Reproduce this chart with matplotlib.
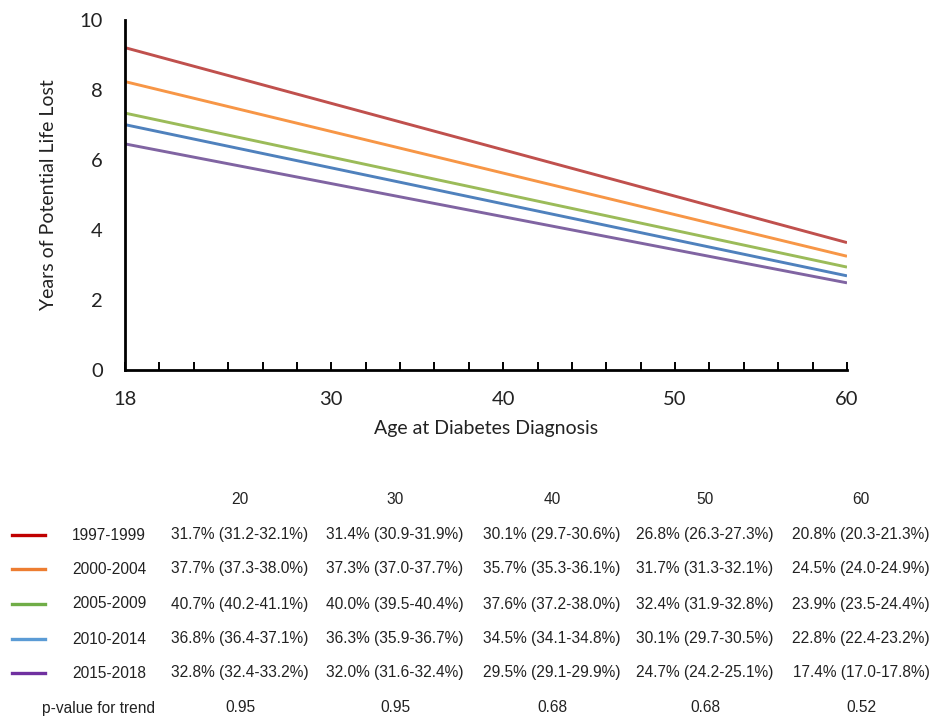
"""Years of potential life lost by age at diabetes diagnosis, with period table."""
import matplotlib
matplotlib.use("Agg")
import matplotlib.pyplot as plt
from matplotlib.lines import Line2D

# line endpoints (age 18 and age 60)
ages = [18, 60]
periods = ["1997-1999", "2000-2004", "2005-2009", "2010-2014", "2015-2018"]
ypll = [
    [9.21, 3.64],
    [8.24, 3.25],
    [7.34, 2.94],
    [7.01, 2.69],
    [6.46, 2.49],
]
line_colors = ["#C0504D", "#F79646", "#9BBB59", "#4F81BD", "#8064A2"]
legend_colors = ["#C00000", "#ED7D31", "#70AD47", "#5B9BD5", "#7030A0"]

# table below the chart
table_ages = ["20", "30", "40", "50", "60"]
table_rows = [
    ["31.7% (31.2-32.1%)", "31.4% (30.9-31.9%)", "30.1% (29.7-30.6%)", "26.8% (26.3-27.3%)", "20.8% (20.3-21.3%)"],
    ["37.7% (37.3-38.0%)", "37.3% (37.0-37.7%)", "35.7% (35.3-36.1%)", "31.7% (31.3-32.1%)", "24.5% (24.0-24.9%)"],
    ["40.7% (40.2-41.1%)", "40.0% (39.5-40.4%)", "37.6% (37.2-38.0%)", "32.4% (31.9-32.8%)", "23.9% (23.5-24.4%)"],
    ["36.8% (36.4-37.1%)", "36.3% (35.9-36.7%)", "34.5% (34.1-34.8%)", "30.1% (29.7-30.5%)", "22.8% (22.4-23.2%)"],
    ["32.8% (32.4-33.2%)", "32.0% (31.6-32.4%)", "29.5% (29.1-29.9%)", "24.7% (24.2-25.1%)", "17.4% (17.0-17.8%)"],
]
p_values = ["0.95", "0.95", "0.68", "0.68", "0.52"]

W, H = 943, 717
fig = plt.figure(figsize=(W / 100, H / 100), dpi=100)
ax = fig.add_axes([125 / W, 1 - 370 / H, 722 / W, 350 / H])

for vals, c in zip(ypll, line_colors):
    ax.plot(ages, vals, color=c, linewidth=2.1, solid_capstyle="butt")

chart_font = "Lato"
ax.set_xlim(18, 60)
ax.set_ylim(0, 10)
ax.set_xticks([18, 30, 40, 50, 60])
ax.set_xticks(range(18, 61, 2), minor=True)
ax.set_yticks(range(0, 11, 2))
ax.tick_params(axis="x", which="both", direction="in", length=6, width=1.4, pad=15,
               labelsize=14.5, colors="black")
ax.tick_params(axis="y", length=0, pad=16, labelsize=14.5)
for lab in ax.get_xticklabels() + ax.get_yticklabels():
    lab.set_fontfamily(chart_font)
    lab.set_color("#222222")
for s in ["top", "right"]:
    ax.spines[s].set_visible(False)
for s in ["left", "bottom"]:
    ax.spines[s].set_linewidth(2)
ax.set_xlabel("Age at Diabetes Diagnosis", fontsize=14, family=chart_font, labelpad=9,
              color="#222222")
ax.set_ylabel("Years of Potential Life Lost", fontsize=14, family=chart_font, labelpad=16,
              color="#222222")

# table
tf = dict(family="Liberation Sans", fontsize=11.2, color="#222222", va="center", ha="center")
col_x = [240, 395, 552, 705, 861]
header_y = 500
row_y = [535, 569, 604, 639, 673]
p_y = 708
for x, a in zip(col_x, table_ages):
    fig.text(x / W, 1 - header_y / H, a, **tf)
for i, (name, row) in enumerate(zip(periods, table_rows)):
    y = 1 - row_y[i] / H
    fig.add_artist(Line2D([12 / W, 45 / W], [y, y], color=legend_colors[i], linewidth=2.4,
                          transform=fig.transFigure))
    fig.text(109 / W, y, name, **tf)
    for x, cell in zip(col_x, row):
        fig.text(x / W, y, cell, **tf)
fig.text(98 / W, 1 - p_y / H, "p-value for trend", **tf)
for x, p in zip(col_x, p_values):
    fig.text(x / W, 1 - p_y / H, p, **tf)

fig.savefig("out.png", dpi=100)
